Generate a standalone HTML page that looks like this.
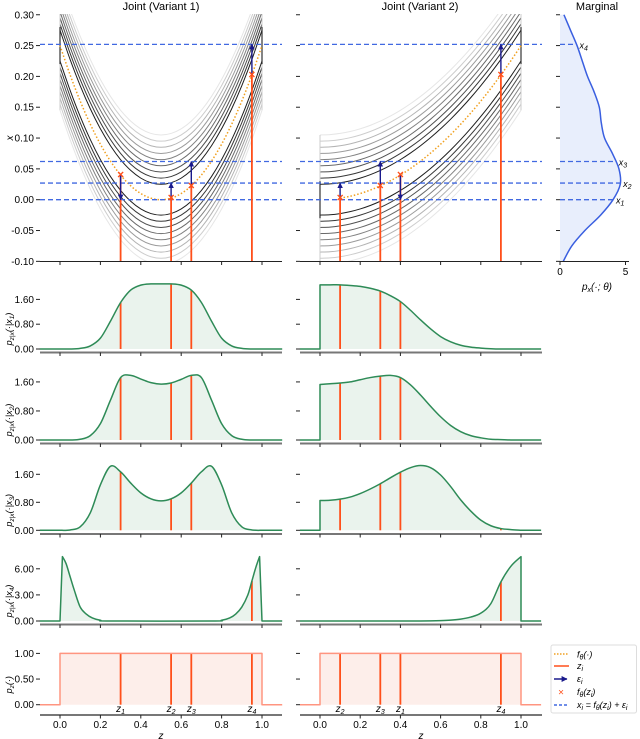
<!DOCTYPE html>
<html><head><meta charset="utf-8"><style>
html,body{margin:0;padding:0;background:#fff;}
svg{display:block;font-family:"Liberation Sans","DejaVu Sans",sans-serif;}
</style></head><body>
<svg id="fig" width="640" height="739" viewBox="0 0 640 739" xmlns="http://www.w3.org/2000/svg">
<defs>
<clipPath id="clipL"><rect x="40" y="14" width="242" height="247.5"/></clipPath>
<clipPath id="clipR"><rect x="300" y="14" width="242" height="247.5"/></clipPath>
<marker id="arr" viewBox="0 0 10 10" refX="9" refY="5" markerWidth="4" markerHeight="4" orient="auto"><path d="M0,0 L10,5 L0,10 z" fill="#1a1a8c"/></marker>
</defs>
<g id="root"></g>
<text x="161" y="10" text-anchor="middle" font-size="11">Joint (Variant 1)</text>
<text x="420" y="10" text-anchor="middle" font-size="11">Joint (Variant 2)</text>
<text x="597" y="10" text-anchor="middle" font-size="11">Marginal</text>
<g>
<rect x="551" y="645" width="85.5" height="68" fill="#fff" stroke="#ddd" stroke-width="1" rx="2"/>
<line x1="554" y1="654" x2="569" y2="654" stroke="#f0a020" stroke-width="1.5" stroke-dasharray="1.5,1.5"/>
<text x="577" y="657.5" font-size="9" font-style="italic">f<tspan font-size="7" dy="2">θ</tspan><tspan dy="-2">(·)</tspan></text>
<line x1="554" y1="666" x2="569" y2="666" stroke="#ff4f1a" stroke-width="1.5"/>
<text x="577" y="669" font-size="9" font-style="italic">z<tspan font-size="7" dy="2">i</tspan></text>
<line x1="554" y1="679" x2="567" y2="679" stroke="#1a1a8c" stroke-width="1.5" marker-end="url(#arr)"/>
<text x="577" y="682" font-size="9" font-style="italic">ε<tspan font-size="7" dy="2">i</tspan></text>
<text x="561" y="695.5" font-size="10" fill="#ff4f1a" text-anchor="middle">×</text>
<text x="577" y="695" font-size="9" font-style="italic">f<tspan font-size="7" dy="2">θ</tspan><tspan dy="-2">(z</tspan><tspan font-size="7" dy="2">i</tspan><tspan dy="-2">)</tspan></text>
<line x1="554" y1="705" x2="569" y2="705" stroke="#4169e1" stroke-width="1.5" stroke-dasharray="3,2"/>
<text x="577" y="708" font-size="9" font-style="italic">x<tspan font-size="7" dy="2">i</tspan><tspan dy="-2"> = f</tspan><tspan font-size="7" dy="2">θ</tspan><tspan dy="-2">(z</tspan><tspan font-size="7" dy="2">i</tspan><tspan dy="-2">) + ε</tspan><tspan font-size="7" dy="2">i</tspan></text>
</g>
</svg>
<script>
// ---------- data ----------
const zGrid = [0,0.05,0.1,0.15,0.2,0.25,0.3,0.35,0.4,0.45,0.5,0.55,0.6,0.65,0.7,0.75,0.8,0.85,0.9,0.95,1];
const f1Vals = [0.25,0.2025,0.16,0.1225,0.09,0.0625,0.04,0.0225,0.01,0.0025,0,0.0025,0.01,0.0225,0.04,0.0625,0.09,0.1225,0.16,0.2025,0.25];
const f2Vals = [0,0.0006,0.0025,0.0056,0.01,0.0156,0.0225,0.0306,0.04,0.0506,0.0625,0.0756,0.09,0.1056,0.1225,0.1406,0.16,0.1806,0.2025,0.2256,0.25];
const xObs = [0.0, 0.027, 0.062, 0.252];
const zLatent1 = [0.3, 0.55, 0.65, 0.95];
const zLatent2 = [0.4, 0.1, 0.3, 0.9];
const fAtZ1 = [0.04, 0.0025, 0.0225, 0.2025];
const fAtZ2 = [0.04, 0.0025, 0.0225, 0.2025];
const margX = [-0.1,-0.075,-0.05,-0.025,0,0.025,0.05,0.075,0.1,0.125,0.15,0.175,0.2,0.225,0.25,0.275,0.3];
const margP = [0.25,0.9,1.9,3.1,4.05,4.6,4.5,4.0,3.4,3.15,3.0,2.6,2.1,1.7,1.3,0.8,0.3];
const postL1 = [0,0,0.02,0.1,0.35,0.9,1.5,1.9,2.06,2.1,2.1,2.1,2.06,1.9,1.5,0.9,0.35,0.1,0.02,0,0];
const postL2 = [0,0,0.02,0.12,0.45,1.1,1.72,1.78,1.68,1.58,1.54,1.57,1.67,1.78,1.72,1.1,0.45,0.12,0.02,0,0];
const postL3 = [0,0.01,0.1,0.5,1.3,1.83,1.67,1.35,1.07,0.9,0.84,0.9,1.07,1.35,1.67,1.83,1.3,0.5,0.1,0.01,0];
const postL4z = [0.012,0.03,0.05,0.07,0.1,0.13,0.16,0.2,0.25,0.75,0.8,0.84,0.87,0.9,0.93,0.95,0.97,0.988];
const postL4 = [7.4,6.6,5.1,3.6,1.6,0.8,0.35,0.08,0,0,0.08,0.35,0.8,1.6,3.0,4.6,6.2,7.4];
const postR1 = [2.07,2.07,2.07,2.05,2.02,1.96,1.87,1.72,1.53,1.25,0.94,0.65,0.4,0.23,0.12,0.06,0.03,0.01,0,0,0];
const postR2 = [1.53,1.55,1.57,1.6,1.66,1.72,1.76,1.78,1.72,1.52,1.24,0.93,0.64,0.4,0.23,0.12,0.06,0.02,0.01,0,0];
const postR3 = [0.85,0.86,0.89,0.95,1.05,1.18,1.33,1.5,1.66,1.79,1.85,1.79,1.58,1.25,0.87,0.55,0.29,0.13,0.05,0.02,0];
const postR4 = [0,0,0,0,0,0,0,0,0,0,0,0.01,0.04,0.1,0.22,0.45,0.9,2.0,4.5,6.3,7.4];
const priorZ = [0,1];
const priorP = [1,1];
const yTicksTop = [-0.1,-0.05,0,0.05,0.1,0.15,0.2,0.25,0.3];
const yTickLabelsTop = ["-0.10","-0.05","0.00","0.05","0.10","0.15","0.20","0.25","0.30"];
const zTicks = [0,0.2,0.4,0.6,0.8,1.0];
const zTickLabels = ["0.0","0.2","0.4","0.6","0.8","1.0"];
const margTicks = [0,5];
const rowTicks = [[0,0.8,1.6],[0,0.8,1.6],[0,0.8,1.6],[0,3,6],[0,0.5,1]];
const rowTickLabels = [["0.00","0.80","1.60"],["0.00","0.80","1.60"],["0.00","0.80","1.60"],["0.00","3.00","6.00"],["0.00","0.50","1.00"]];

// ---------- helpers ----------
const NS="http://www.w3.org/2000/svg";
const root=document.getElementById('root');
function mk(tag,attrs,parent){const e=document.createElementNS(NS,tag);for(const k in attrs)e.setAttribute(k,attrs[k]);(parent||root).appendChild(e);return e;}
const colL={x0:40,x1:282,zx:z=>60+202*z};
const colR={x0:300,x1:542,zx:z=>320+201*z};
const ty=v=>199.7-616.5*v;
const mx=p=>560+13.1*p;
function interp(zs,vs,z){if(z<=zs[0])return vs[0];for(let i=1;i<zs.length;i++){if(z<=zs[i]){const t=(z-zs[i-1])/(zs[i]-zs[i-1]);return vs[i-1]+t*(vs[i]-vs[i-1]);}}return vs[vs.length-1];}
function crSegs(pts){let d="";for(let i=0;i<pts.length-1;i++){const p0=pts[i-1]||pts[i],p1=pts[i],p2=pts[i+1],p3=pts[i+2]||p2;const c1=[p1[0]+(p2[0]-p0[0])/6,p1[1]+(p2[1]-p0[1])/6],c2=[p2[0]-(p3[0]-p1[0])/6,p2[1]-(p3[1]-p1[1])/6];d+=" C"+c1[0].toFixed(2)+","+c1[1].toFixed(2)+" "+c2[0].toFixed(2)+","+c2[1].toFixed(2)+" "+p2[0].toFixed(2)+","+p2[1].toFixed(2);}return d;}
function crPath(pts){return "M"+pts[0][0].toFixed(2)+","+pts[0][1].toFixed(2)+crSegs(pts);}

// ---------- top joint panels ----------
function joint(col,fv,zl,fz,clip,labelTicks,tag){
  const g=mk('g',{'clip-path':'url(#'+clip+')'});
  
  
  const offs=[];for(let k=8;k>=0;k--){offs.push(0.025+0.01*k);offs.push(-(0.025+0.01*k));}
  offs.forEach(o=>{
    const lv=Math.round(30+(Math.abs(o)-0.025)/0.08*200);
    const pts=zGrid.map((z,i)=>[col.zx(z),ty(fv[i]+o)]);
    const p=mk('path',{d:crPath(pts),fill:'none',stroke:`rgb(${lv},${lv},${lv})`,'stroke-width':1},g);
    
    
  });
  [0,zGrid.length-1].forEach(i=>{
    const e1=mk('line',{x1:col.zx(zGrid[i]),x2:col.zx(zGrid[i]),y1:ty(fv[i]+0.105),y2:ty(fv[i]-0.105),stroke:'#ccc','stroke-width':1},g);
    
    
    const e2=mk('line',{x1:col.zx(zGrid[i]),x2:col.zx(zGrid[i]),y1:ty(fv[i]+0.03),y2:ty(fv[i]-0.03),stroke:'#333','stroke-width':1.2},g);
    
    
  });
  const startIdx = fv[0]===0?2:0;
  const fp=mk('path',{d:crPath(zGrid.slice(startIdx).map((z,i)=>[col.zx(z),ty(fv[i+startIdx])])),fill:'none',stroke:'#f0a020','stroke-width':1.5,'stroke-dasharray':'1.5,2'},g);
  
  
  xObs.forEach(x=>{
    const l=mk('line',{x1:col.x0,x2:col.x1,y1:ty(x),y2:ty(x),stroke:'#4169e1','stroke-width':1.3,'stroke-dasharray':'5,3'});
    
    
  });
  zl.forEach((z,i)=>{
    const X=col.zx(z);
    const l=mk('line',{x1:X,x2:X,y1:ty(-0.1),y2:ty(fz[i]),stroke:'#ff4f1a','stroke-width':1.8});
    
    
    const a=mk('line',{x1:X,x2:X,y1:ty(fz[i]),y2:ty(xObs[i]),stroke:'#1a1a8c','stroke-width':1.4,'marker-end':'url(#arr)'});
    
    
    const m=mk('text',{x:X,y:ty(fz[i])+3.5,'text-anchor':'middle','font-size':12,fill:'#ff4f1a','font-weight':'bold'});
    m.textContent='×';
    
    
  });
  const ax=mk('line',{x1:col.x0,x2:col.x1,y1:261.5,y2:261.5,stroke:'#222','stroke-width':1});
  
  
  zTicks.forEach(z=>{const t=mk('line',{x1:col.zx(z),x2:col.zx(z),y1:261.5,y2:265,stroke:'#222'});});
  yTicksTop.forEach((v,i)=>{
    const t=mk('line',{x1:col.x0-4,x2:col.x0,y1:ty(v),y2:ty(v),stroke:'#222'});
    
    
    if(labelTicks){const tx=mk('text',{x:col.x0-6,y:ty(v)+3.5,'text-anchor':'end','font-size':10});tx.textContent=yTickLabelsTop[i];}
  });
}
joint(colL,f1Vals,zLatent1,fAtZ1,'clipL',true,'variant-1');
joint(colR,f2Vals,zLatent2,fAtZ2,'clipR',false,'variant-2');
const xl=mk('text',{x:13,y:138,'font-size':10,'font-style':'italic','text-anchor':'middle',transform:'rotate(-90 13 138)'});
xl.textContent='x';



// ---------- marginal ----------
(function(){
  const pts=margX.map((x,i)=>[mx(margP[i]),ty(x)]);
  const fill=mk('path',{d:crPath(pts)+` L${mx(0)},${ty(0.3)} L${mx(0)},${ty(-0.1)} Z`,fill:'#e8eefc',stroke:'none'});
  
  
  xObs.forEach(x=>{
    const l=mk('line',{x1:560,x2:mx(interp(margX,margP,x)),y1:ty(x),y2:ty(x),stroke:'#4169e1','stroke-width':1.3,'stroke-dasharray':'5,3'});
    
    
  });
  const c=mk('path',{d:crPath(pts),fill:'none',stroke:'#3a5fe0','stroke-width':1.5});
  
  
  const ax=mk('line',{x1:560,x2:629,y1:261.5,y2:261.5,stroke:'#222'});
  
  
  margTicks.forEach(p=>{
    const t=mk('line',{x1:mx(p),x2:mx(p),y1:261.5,y2:265,stroke:'#222'});
    
    
    const tx=mk('text',{x:mx(p),y:275,'text-anchor':'middle','font-size':10});
    tx.textContent=String(p);
    
    
  });
  yTicksTop.forEach(v=>{const t=mk('line',{x1:556,x2:560,y1:ty(v),y2:ty(v),stroke:'#222'});});
  const lab=mk('text',{x:597,y:290,'text-anchor':'middle','font-size':10,'font-style':'italic'});
  lab.innerHTML='p<tspan font-size="7" dy="2">x</tspan><tspan dy="-2">(·; θ)</tspan>';
  
  
  xObs.forEach((x,i)=>{
    const t=mk('text',{x:mx(interp(margX,margP,x))+3,y:ty(x)+4,'font-size':9,'font-style':'italic'});
    t.innerHTML='x<tspan font-size="7" dy="2">'+(i+1)+'</tspan>';
    
    
  });
})();

// ---------- density rows ----------
const rows=[{base:349,s:31,ax:352.5},{base:440,s:36.3,ax:443.5},{base:530.3,s:35,ax:534},{base:621,s:8.7,ax:624.5},{base:704.7,s:51.3,ax:715}];
const seriesL=[[zGrid,postL1],[zGrid,postL2],[zGrid,postL3],[postL4z,postL4],[priorZ,priorP]];
const seriesR=[[zGrid,postR1],[zGrid,postR2],[zGrid,postR3],[zGrid,postR4],[priorZ,priorP]];
const rowNames=['x1','x2','x3','x4','prior'];
function density(col,r,ser,zl,ri,labelTicks,tag){
  const yv=v=>r.base-r.s*v;
  const zs=ser[0],vs=ser[1];
  const dp=zs.map((z,i)=>[col.zx(z),yv(vs[i])]);
  const prior=ri===4;
  let d=`M${col.zx(-0.1)},${yv(0)} L${col.zx(0)},${yv(0)} L${dp[0][0].toFixed(2)},${dp[0][1].toFixed(2)}`;
  d+= prior ? ` L${dp[1][0]},${dp[1][1]}` : crSegs(dp);
  d+=` L${col.zx(1)},${yv(0)} L${col.zx(1.1)},${yv(0)}`;
  const f=mk('path',{d:d+' Z',fill:prior?'#fdeeea':'#eaf3ed',stroke:'none'});
  
  
  zl.forEach(z=>{
    const X=col.zx(z);
    const l=mk('line',{x1:X,x2:X,y1:yv(0),y2:yv(interp(zs,vs,z)),stroke:'#ff4f1a','stroke-width':1.8});
    
    
  });
  const c=mk('path',{d:d,fill:'none',stroke:prior?'#ff9580':'#2e8b57','stroke-width':1.5,'stroke-linejoin':'round'});
  
  
  const ax=mk('line',{x1:col.x0,x2:col.x1,y1:r.ax,y2:r.ax,stroke:'#777','stroke-width':2});
  
  
  zTicks.forEach((z,i)=>{
    const t=mk('line',{x1:col.zx(z),x2:col.zx(z),y1:r.ax,y2:r.ax+3.5,stroke:'#222'});
    
    
    if(prior){const tx=mk('text',{x:col.zx(z),y:r.ax+13,'text-anchor':'middle','font-size':10});tx.textContent=zTickLabels[i];}
  });
  rowTicks[ri].forEach((v,i)=>{
    const t=mk('line',{x1:col.x0-4,x2:col.x0,y1:yv(v),y2:yv(v),stroke:'#222'});
    
    
    if(labelTicks){const tx=mk('text',{x:col.x0-6,y:yv(v)+3.5,'text-anchor':'end','font-size':10});tx.textContent=rowTickLabels[ri][i];}
  });
  if(prior){
    zl.forEach((z,i)=>{
      const t=mk('text',{x:col.zx(z),y:712,'text-anchor':'middle','font-size':10,'font-style':'italic'});
      t.innerHTML='z<tspan font-size="7" dy="2">'+(i+1)+'</tspan>';
      
      
    });
    const zt=mk('text',{x:(col.x0+col.x1)/2,y:739,'text-anchor':'middle','font-size':10,'font-style':'italic'});
    zt.textContent='z';
    
    
  }
}
rows.forEach((r,ri)=>{
  density(colL,r,seriesL[ri],zLatent1,ri,true,'variant-1-'+rowNames[ri]);
  density(colR,r,seriesR[ri],zLatent2,ri,false,'variant-2-'+rowNames[ri]);
  const cy=r.base-20;
  const lab=mk('text',{x:12,y:cy,'font-size':9,'font-style':'italic','text-anchor':'middle',transform:`rotate(-90 12 ${cy})`});
  lab.innerHTML= ri<4 ? 'p<tspan font-size="6.5" dy="2">z|x</tspan><tspan dy="-2">(·|x</tspan><tspan font-size="6.5" dy="2">'+(ri+1)+'</tspan><tspan dy="-2">)</tspan>' : 'p<tspan font-size="6.5" dy="2">z</tspan><tspan dy="-2">(·)</tspan>';
  
  
});
</script>
</body></html>
